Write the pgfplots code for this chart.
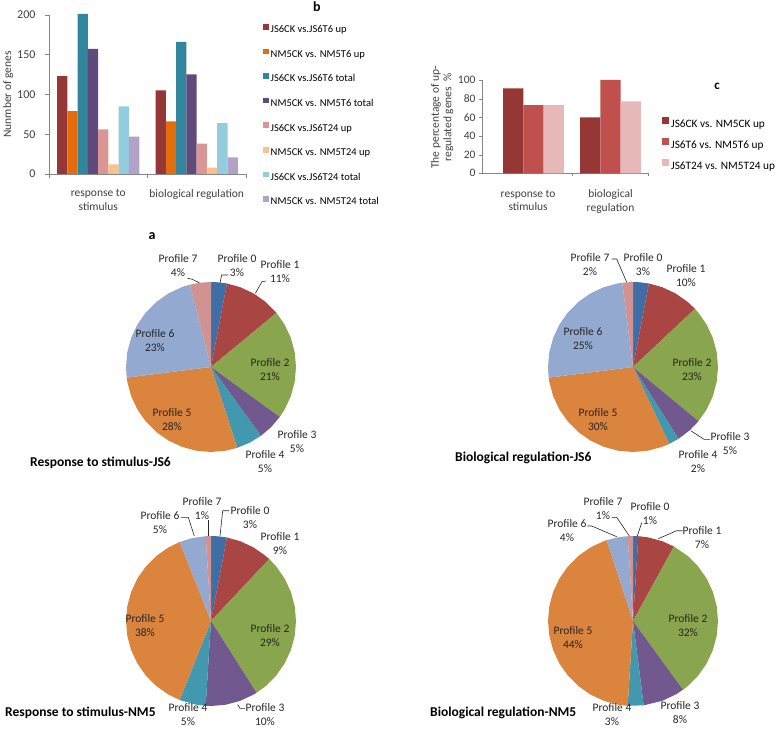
\documentclass[border=0pt]{standalone}
\usepackage{pgfplots}
\pgfplotsset{compat=1.18}
\usepgfplotslibrary{polar}
\usepackage{fontspec}
\setmainfont{Carlito}
\definecolor{b1}{HTML}{953735}
\definecolor{b2}{HTML}{E46C0A}
\definecolor{b3}{HTML}{31859C}
\definecolor{b4}{HTML}{604A7B}
\definecolor{b5}{HTML}{D99694}
\definecolor{b6}{HTML}{FAC090}
\definecolor{b7}{HTML}{93CDDD}
\definecolor{b8}{HTML}{B3A2C7}
\definecolor{c1}{HTML}{953735}
\definecolor{c2}{HTML}{C0504D}
\definecolor{c3}{HTML}{E6B9B8}
\definecolor{p0}{HTML}{3F6EA6}
\definecolor{p1}{HTML}{A94543}
\definecolor{p2}{HTML}{89A54E}
\definecolor{p3}{HTML}{71588F}
\definecolor{p4}{HTML}{4298AF}
\definecolor{p5}{HTML}{DB843D}
\definecolor{p6}{HTML}{93A9CF}
\definecolor{p7}{HTML}{D19392}
\definecolor{axgray}{HTML}{868686}
\definecolor{txt}{HTML}{404040}
\pgfplotsset{
  barax/.style={
    scale only axis, clip=false,
    /pgf/number format/assume math mode=true,
    axis x line*=bottom, axis y line*=left,
    axis line style={-,draw=axgray},
    every outer x axis line/.append style={-},
    every outer y axis line/.append style={-},
    tick style={draw=axgray}, tick align=outside, major tick length=4pt,
    xticklabels={},
    extra x tick style={major tick length=0pt, tick style={draw=none}},
    ymin=0,
    legend cell align=left,
  },
  pie/.style={scale only axis, width=170pt, height=170pt, ymin=0, ymax=1, hide axis, clip=false, at={(0pt,0pt)}, anchor=center},
}
\tikzset{lab/.style={font=\fontsize{11.5}{14}\selectfont, align=center, text=black!85, inner sep=0pt},
         ldr/.style={draw=black!85, line width=0.6pt},
         ttl/.style={font=\bfseries\fontsize{13.5}{16}\selectfont, anchor=west, inner sep=0pt}}
\begin{document}
\begin{tikzpicture}[x=1pt,y=1pt]
\path[use as bounding box] (0,0) rectangle (778,729);

% ---------------- chart b ----------------
\begin{scope}[shift={(49pt,555pt)}]
\begin{axis}[barax,
  at={(0pt,0pt)}, anchor=south west,
  width=197pt, height=159.3pt,
  xmin=-0.5, xmax=1.5, xtick={-0.5,0.5,1.5},
  ybar=0pt, bar width=10.25pt,
  ymax=200, ytick={0,50,100,150,200},
  yticklabel style={font=\fontsize{12}{14}\selectfont, text=txt, xshift=-6pt},
  extra x ticks={0,1},
  extra x tick labels={response to\\stimulus, biological regulation},
  extra x tick style={xticklabel style={align=center, font=\fontsize{11.5}{13.7}\selectfont, text=txt, yshift=-12pt}},
  ylabel={Nunmber of genes},
  ylabel style={at={(axis description cs:-0.208,0.5)}, anchor=center, font=\fontsize{11.5}{14}\selectfont, text=txt},
  legend style={at={(axis description cs:1.086,0.945)}, anchor=north west, draw=none, fill=none, inner sep=0pt,
     font=\fontsize{10.5}{12}\selectfont, row sep=12.1pt,
     nodes={inner ysep=1pt, inner xsep=2pt, text height=8pt, text depth=2.5pt}},
  legend image code/.code={\fill[#1] (0pt,0.4pt) rectangle (5.6pt,6pt);},
]
\addplot[fill=b1, draw=none] coordinates {(0,123) (1,105)};
\addplot[fill=b2, draw=none] coordinates {(0,79) (1,66)};
\addplot[fill=b3, draw=none] coordinates {(0,201) (1,166)};
\addplot[fill=b4, draw=none] coordinates {(0,157) (1,125)};
\addplot[fill=b5, draw=none] coordinates {(0,56) (1,38)};
\addplot[fill=b6, draw=none] coordinates {(0,12) (1,8)};
\addplot[fill=b7, draw=none] coordinates {(0,85) (1,64)};
\addplot[fill=b8, draw=none] coordinates {(0,47) (1,21)};
\legend{JS6CK vs.JS6T6 up, NM5CK vs. NM5T6 up, JS6CK vs.JS6T6 total, NM5CK vs. NM5T6 total,
        JS6CK vs.JS6T24 up, NM5CK vs. NM5T24 up, JS6CK vs.JS6T24 total, NM5CK vs. NM5T24 total}
\end{axis}
\end{scope}

% ---------------- chart c ----------------
\begin{scope}[shift={(482pt,555.7pt)}]
\begin{axis}[barax,
  at={(0pt,0pt)}, anchor=south west,
  width=166pt, height=93.3pt,
  xmin=-0.669, xmax=1.487, xtick={0.5,1.487},
  ybar=0pt, bar width=20.3pt,
  ymax=100, ytick={0,20,40,60,80,100},
  major tick length=3pt,
  yticklabel style={font=\fontsize{11.5}{14}\selectfont, text=txt},
  extra x ticks={-0.07,1},
  extra x tick labels={response to\\stimulus, biological\\regulation},
  extra x tick style={xticklabel style={align=center, font=\fontsize{11.5}{13.7}\selectfont, text=txt, yshift=-13pt}},
  ylabel={The percentage of up-\\regulated genes\ \ \%},
  ylabel style={at={(axis description cs:-0.241,0.6)}, anchor=center, align=center, font=\fontsize{11.5}{12.5}\selectfont, text=txt},
  legend style={at={(axis description cs:1.084,0.609)}, anchor=north west, draw=none, fill=none, inner sep=0pt,
     font=\fontsize{11.3}{13}\selectfont, row sep=7pt,
     nodes={inner ysep=1pt, inner xsep=2pt, text height=9pt, text depth=2.5pt}},
  legend image code/.code={\fill[#1] (0pt,0.3pt) rectangle (7pt,7.3pt);},
]
\addplot[fill=c1, draw=none] coordinates {(0,91) (1,60)};
\addplot[fill=c2, draw=none] coordinates {(0,73) (1,100)};
\addplot[fill=c3, draw=none] coordinates {(0,73) (1,77)};
\legend{JS6CK vs. NM5CK up, JS6T6 vs. NM5T6 up, JS6T24 vs. NM5T24 up}
\end{axis}
\end{scope}

\node[font=\bfseries\fontsize{14}{16}\selectfont] at (317,722) {b};
\node[font=\bfseries\fontsize{13}{16}\selectfont] at (717,643) {c};
\node[font=\bfseries\fontsize{14}{16}\selectfont] at (152,493) {a};

% ---------------- pie 1: Response to stimulus-JS6 ----------------
\begin{scope}[shift={(211pt,362pt)}]
\begin{polaraxis}[pie]
\addplot[fill=p0,draw=none] coordinates {(0,0)(90,1)(85,1)(79.2,1)};
\addplot[fill=p1,draw=none] coordinates {(0,0)(79.2,1)(70,1)(60,1)(50,1)(39.6,1)};
\addplot[fill=p2,draw=none] coordinates {(0,0)(39.6,1)(30,1)(20,1)(10,1)(0,1)(-10,1)(-20,1)(-30,1)(-36,1)};
\addplot[fill=p3,draw=none] coordinates {(0,0)(-36,1)(-45,1)(-54,1)};
\addplot[fill=p4,draw=none] coordinates {(0,0)(-54,1)(-63,1)(-72,1)};
\addplot[fill=p5,draw=none] coordinates {(0,0)(-72,1)(-80,1)(-90,1)(-100,1)(-110,1)(-120,1)(-130,1)(-140,1)(-150,1)(-160,1)(-170,1)(-172.8,1)};
\addplot[fill=p6,draw=none] coordinates {(0,0)(-172.8,1)(-180,1)(-190,1)(-200,1)(-210,1)(-220,1)(-230,1)(-240,1)(-250,1)(-255.6,1)};
\addplot[fill=p7,draw=none] coordinates {(0,0)(-255.6,1)(-263,1)(-270,1)};
\end{polaraxis}
\end{scope}
\node[lab] at (178,463) {Profile 7\\4\%};
\node[lab] at (237,463) {Profile 0\\3\%};
\node[lab] at (280,457) {Profile 1\\11\%};
\node[lab] at (270,359) {Profile 2\\21\%};
\node[lab] at (155,388) {Profile 6\\23\%};
\node[lab] at (172,309) {Profile 5\\28\%};
\node[lab] at (297,287) {Profile 3\\5\%};
\node[lab] at (265,267) {Profile 4\\5\%};
\draw[ldr] (187.3,450.7) -- (192.3,449.7) -- (199.3,446.3);
\draw[ldr] (228.3,454) -- (221.7,454) -- (220,446.3);
\draw[ldr] (266,448) -- (262,447.3) -- (255.3,435.7);
\node[ttl] at (30,266) {Response to stimulus-JS6};

% ---------------- pie 2: Biological regulation-JS6 ----------------
\begin{scope}[shift={(633pt,362pt)}]
\begin{polaraxis}[pie]
\addplot[fill=p0,draw=none] coordinates {(0,0)(90,1)(85,1)(79.2,1)};
\addplot[fill=p1,draw=none] coordinates {(0,0)(79.2,1)(70,1)(60,1)(50,1)(43.2,1)};
\addplot[fill=p2,draw=none] coordinates {(0,0)(43.2,1)(40,1)(30,1)(20,1)(10,1)(0,1)(-10,1)(-20,1)(-30,1)(-39.6,1)};
\addplot[fill=p3,draw=none] coordinates {(0,0)(-39.6,1)(-48,1)(-57.6,1)};
\addplot[fill=p4,draw=none] coordinates {(0,0)(-57.6,1)(-64.8,1)};
\addplot[fill=p5,draw=none] coordinates {(0,0)(-64.8,1)(-70,1)(-80,1)(-90,1)(-100,1)(-110,1)(-120,1)(-130,1)(-140,1)(-150,1)(-160,1)(-170,1)(-172.8,1)};
\addplot[fill=p6,draw=none] coordinates {(0,0)(-172.8,1)(-180,1)(-190,1)(-200,1)(-210,1)(-220,1)(-230,1)(-240,1)(-250,1)(-260,1)(-262.8,1)};
\addplot[fill=p7,draw=none] coordinates {(0,0)(-262.8,1)(-270,1)};
\end{polaraxis}
\end{scope}
\node[lab] at (590,464) {Profile 7\\2\%};
\node[lab] at (643,464) {Profile 0\\3\%};
\node[lab] at (686,453) {Profile 1\\10\%};
\node[lab] at (692,359) {Profile 2\\23\%};
\node[lab] at (583,390) {Profile 6\\25\%};
\node[lab] at (598,309) {Profile 5\\30\%};
\node[lab] at (730,285) {Profile 3\\5\%};
\node[lab] at (698,267) {Profile 4\\2\%};
\draw[ldr] (611.7,470) -- (616.7,470) -- (626.7,446.7);
\draw[ldr] (710,289.7) -- (704,289.7) -- (690.7,298.3);
\node[ttl] at (455,271) {Biological regulation-JS6};

% ---------------- pie 3: Response to stimulus-NM5 ----------------
\begin{scope}[shift={(211pt,108pt)}]
\begin{polaraxis}[pie]
\addplot[fill=p0,draw=none] coordinates {(0,0)(90,1)(85,1)(79.2,1)};
\addplot[fill=p1,draw=none] coordinates {(0,0)(79.2,1)(70,1)(60,1)(50,1)(46.8,1)};
\addplot[fill=p2,draw=none] coordinates {(0,0)(46.8,1)(40,1)(30,1)(20,1)(10,1)(0,1)(-10,1)(-20,1)(-30,1)(-40,1)(-50,1)(-57.6,1)};
\addplot[fill=p3,draw=none] coordinates {(0,0)(-57.6,1)(-60,1)(-70,1)(-80,1)(-90,1)(-93.6,1)};
\addplot[fill=p4,draw=none] coordinates {(0,0)(-93.6,1)(-100,1)(-111.6,1)};
\addplot[fill=p5,draw=none] coordinates {(0,0)(-111.6,1)(-120,1)(-130,1)(-140,1)(-150,1)(-160,1)(-170,1)(-180,1)(-190,1)(-200,1)(-210,1)(-220,1)(-230,1)(-240,1)(-248.4,1)};
\addplot[fill=p6,draw=none] coordinates {(0,0)(-248.4,1)(-257,1)(-266.4,1)};
\addplot[fill=p7,draw=none] coordinates {(0,0)(-266.4,1)(-270,1)};
\end{polaraxis}
\end{scope}
\node[lab] at (202,220) {Profile 7\\1\%};
\node[lab] at (160,206) {Profile 6\\5\%};
\node[lab] at (250,211) {Profile 0\\3\%};
\node[lab] at (280,185) {Profile 1\\9\%};
\node[lab] at (270,93) {Profile 2\\29\%};
\node[lab] at (145,103) {Profile 5\\38\%};
\node[lab] at (265,14) {Profile 3\\10\%};
\node[lab] at (188,14) {Profile 4\\5\%};
\draw[ldr] (208.3,209) -- (208.3,193);
\draw[ldr] (180.7,211.7) -- (188.3,211.7) -- (194.3,193);
\draw[ldr] (229.3,218.3) -- (222.7,218.3) -- (220,193);
\draw[ldr] (245,20.7) -- (240,20.7) -- (237.7,24.5);
\node[ttl] at (5,16) {Response to stimulus-NM5};

% ---------------- pie 4: Biological regulation-NM5 ----------------
\begin{scope}[shift={(633pt,108pt)}]
\begin{polaraxis}[pie]
\addplot[fill=p0,draw=none] coordinates {(0,0)(90,1)(86.4,1)};
\addplot[fill=p1,draw=none] coordinates {(0,0)(86.4,1)(80,1)(70,1)(61.2,1)};
\addplot[fill=p2,draw=none] coordinates {(0,0)(61.2,1)(50,1)(40,1)(30,1)(20,1)(10,1)(0,1)(-10,1)(-20,1)(-30,1)(-40,1)(-50,1)(-54,1)};
\addplot[fill=p3,draw=none] coordinates {(0,0)(-54,1)(-60,1)(-70,1)(-82.8,1)};
\addplot[fill=p4,draw=none] coordinates {(0,0)(-82.8,1)(-93.6,1)};
\addplot[fill=p5,draw=none] coordinates {(0,0)(-93.6,1)(-100,1)(-110,1)(-120,1)(-130,1)(-140,1)(-150,1)(-160,1)(-170,1)(-180,1)(-190,1)(-200,1)(-210,1)(-220,1)(-230,1)(-240,1)(-250,1)(-252,1)};
\addplot[fill=p6,draw=none] coordinates {(0,0)(-252,1)(-260,1)(-266.4,1)};
\addplot[fill=p7,draw=none] coordinates {(0,0)(-266.4,1)(-270,1)};
\end{polaraxis}
\end{scope}
\node[lab] at (603,220) {Profile 7\\1\%};
\node[lab] at (567,198) {Profile 6\\4\%};
\node[lab] at (650,215) {Profile 0\\1\%};
\node[lab] at (702,191) {Profile 1\\7\%};
\node[lab] at (688,103) {Profile 2\\32\%};
\node[lab] at (573,91) {Profile 5\\44\%};
\node[lab] at (680,16) {Profile 3\\8\%};
\node[lab] at (612,14) {Profile 4\\3\%};
\draw[ldr] (611.7,211.7) -- (616.7,211.7) -- (629.3,193);
\draw[ldr] (587.3,203) -- (591.7,203) -- (616.7,192.3);
\draw[ldr] (641.7,206.3) -- (637.3,193);
\draw[ldr] (682.7,198.3) -- (676.7,198.3) -- (658.3,190.3);
\node[ttl] at (430,16) {Biological regulation-NM5};
\end{tikzpicture}
\end{document}
